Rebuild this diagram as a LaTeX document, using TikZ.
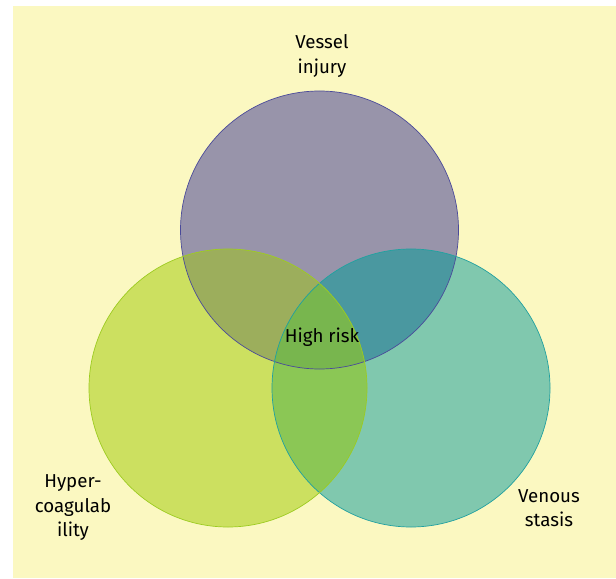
\documentclass[tikz,border=0pt]{standalone}
\usepackage{fontspec}
\setmainfont{Fira Sans}
\definecolor{bgy}{HTML}{FBF8C1}
\definecolor{topc}{HTML}{9894AA}
\definecolor{leftc}{HTML}{CCE060}
\definecolor{rightc}{HTML}{80C8AE}
\definecolor{tlc}{HTML}{9CAE5C}
\definecolor{trc}{HTML}{4A98A0}
\definecolor{lrc}{HTML}{8BC755}
\definecolor{cc}{HTML}{78B64E}
\definecolor{tops}{HTML}{4A4A9A}
\definecolor{lefts}{HTML}{9CCB20}
\definecolor{rights}{HTML}{20A0A0}
\tikzset{lbl/.style={align=center, font=\fontsize{18.7bp}{24.5bp}\selectfont, text=black, inner sep=0pt}}
\begin{document}
\begin{tikzpicture}[x=1bp,y=-1bp]
\useasboundingbox (0,0) rectangle (616,579);
\fill[white] (0,0) rectangle (616,579);
\fill[bgy] (13,6) rectangle (616,578);
\def\TOP{(319.5,230) circle[radius=139bp]}
\def\LEFT{(228,388) circle[radius=139bp]}
\def\RIGHT{(411,388) circle[radius=139bp]}
\fill[topc] \TOP;
\fill[leftc] \LEFT;
\fill[rightc] \RIGHT;
\begin{scope}\clip \TOP; \fill[tlc] \LEFT; \end{scope}
\begin{scope}\clip \TOP; \fill[trc] \RIGHT; \end{scope}
\begin{scope}\clip \LEFT; \fill[lrc] \RIGHT; \end{scope}
\begin{scope}\clip \TOP; \clip \LEFT; \fill[cc] \RIGHT; \end{scope}
\draw[tops, line width=0.7bp] \TOP;
\draw[rights, line width=0.7bp] \RIGHT;
\draw[lefts, line width=0.7bp] \LEFT;
\node[lbl] (vessel) at (322,56) {Vessel\\injury};
\node[lbl] (hyper) at (73,508) {Hyper-\\coagulab\\ility};
\node[lbl] (venous) at (549,508) {Venous\\stasis};
\node[lbl] (high) at (322,337) {High risk};
\end{tikzpicture}
\end{document}
